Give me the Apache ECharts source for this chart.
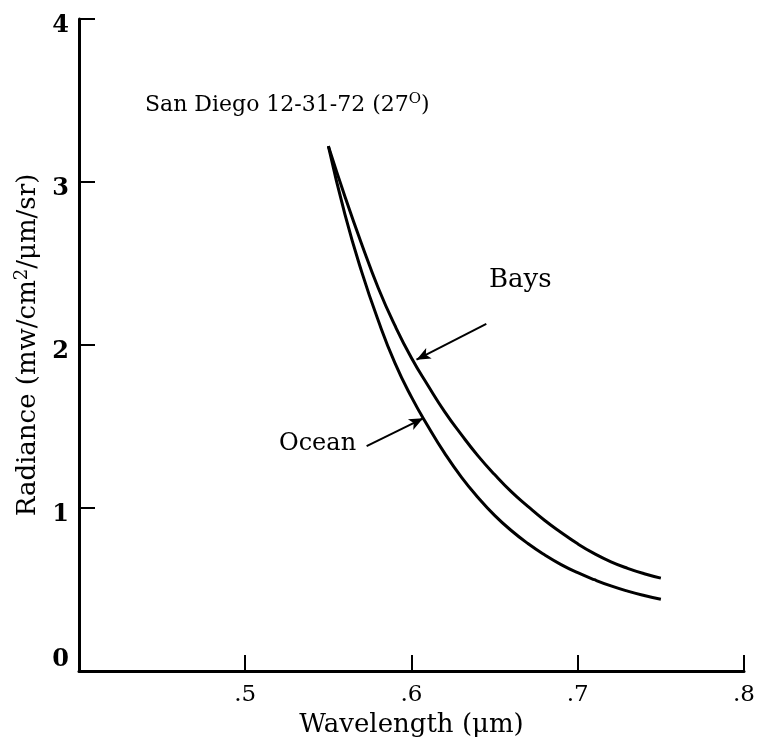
<!DOCTYPE html>
<html>
<head>
<meta charset="utf-8">
<script src="https://cdn.jsdelivr.net/npm/echarts@6/dist/echarts.min.js"></script>
<style>
* { margin: 0; padding: 0; }
html, body { background: #fff; }
#main { width: 761px; height: 743px; }
</style>
</head>
<body>
<!-- chart container -->
<div id="main"></div>
<script>
// wavelength (um) sample positions
var wavelength = [0.55, 0.56, 0.57, 0.58, 0.59, 0.60, 0.61, 0.62, 0.63, 0.64, 0.65,
                  0.66, 0.67, 0.68, 0.69, 0.70, 0.71, 0.72, 0.73, 0.74, 0.75];
// radiance
var bays  = [3.22, 2.91, 2.62, 2.35, 2.12, 1.92, 1.75, 1.59, 1.45, 1.32, 1.205,
             1.10, 1.01, 0.925, 0.85, 0.78, 0.72, 0.67, 0.63, 0.597, 0.57];
var ocean = [3.22, 2.80, 2.45, 2.15, 1.89, 1.68, 1.50, 1.335, 1.19, 1.065, 0.955,
             0.862, 0.782, 0.713, 0.653, 0.603, 0.56, 0.522, 0.49, 0.463, 0.44];
var xTicks = [0.4, 0.5, 0.6, 0.7, 0.8];
var yTicks = [0, 1, 2, 3, 4];

function pairs(xs, ys) {
  return xs.map(function (x, i) { return [x, ys[i]]; });
}

var serif = '"DejaVu Serif", "Liberation Serif", serif';
var chart = echarts.init(document.getElementById('main'));

chart.setOption({
  animation: false,
  backgroundColor: '#fff',
  grid: { left: 79, right: 17, top: 15, bottom: 70, containLabel: false },
  xAxis: {
    type: 'value',
    min: xTicks[0],
    max: xTicks[xTicks.length - 1],
    interval: 0.1,
    splitLine: { show: false },
    axisLine: { lineStyle: { color: '#000', width: 3 } },
    axisTick: { inside: true, length: 16, lineStyle: { color: '#000', width: 2 } },
    axisLabel: {
      color: '#000', fontFamily: serif, fontSize: 23, margin: 13,
      showMinLabel: false,
      formatter: function (v) { return '.' + Math.round(v * 10); }
    },
    name: 'Wavelength (\u03bcm)',
    nameLocation: 'middle',
    nameGap: 41,
    nameTextStyle: { color: '#000', fontFamily: serif, fontSize: 26 }
  },
  yAxis: {
    type: 'value',
    min: yTicks[0],
    max: yTicks[yTicks.length - 1],
    interval: 1,
    splitLine: { show: false },
    axisLine: { lineStyle: { color: '#000', width: 3 } },
    axisTick: { inside: true, length: 16, lineStyle: { color: '#000', width: 2 } },
    axisLabel: {
      color: '#000', fontFamily: serif, fontSize: 24, fontWeight: 'bold', margin: 10,
      formatter: function (v) { return v === 0 ? '{z|0}' : '{n|' + v + '}'; },
      rich: {
        z: { fontFamily: serif, fontSize: 24, fontWeight: 'bold', lineHeight: 28, padding: [0, 0, 22, 0] },
        n: { fontFamily: serif, fontSize: 24, fontWeight: 'bold', lineHeight: 28, padding: [14, 0, 0, 0] }
      }
    },
    name: 'Radiance (mw/cm{sup|2}/\u03bcm/sr)',
    nameLocation: 'middle',
    nameGap: 31,
    nameTextStyle: {
      color: '#000', fontFamily: serif, fontSize: 26,
      rich: { sup: { fontFamily: serif, fontSize: 18, verticalAlign: 'top', padding: [0, 0, 13, 0] } }
    }
  },
  series: [
    {
      name: 'Bays',
      type: 'line',
      data: pairs(wavelength, bays),
      smooth: 0.5,
      symbol: 'none',
      lineStyle: { color: '#000', width: 3 },
      markLine: {
        silent: true,
        symbol: ['none', 'arrow'],
        symbolSize: [9, 14],
        label: { show: false },
        lineStyle: { color: '#000', width: 2, type: 'solid' },
        data: [[{ coord: [0.645, 2.13] }, { coord: [0.603, 1.91] }]]
      }
    },
    {
      name: 'Ocean',
      type: 'line',
      data: pairs(wavelength, ocean),
      smooth: 0.5,
      symbol: 'none',
      lineStyle: { color: '#000', width: 3 },
      markLine: {
        silent: true,
        symbol: ['none', 'arrow'],
        symbolSize: [9, 14],
        label: { show: false },
        lineStyle: { color: '#000', width: 2, type: 'solid' },
        data: [[{ coord: [0.573, 1.38] }, { coord: [0.607, 1.55] }]]
      }
    }
  ],
  graphic: [
    {
      type: 'text', left: 145, top: 92,
      style: {
        text: 'San Diego 12-31-72 (27{sup|O})',
        fill: '#000', font: '22px ' + serif,
        rich: { sup: { fontSize: 15, fontFamily: serif, verticalAlign: 'top', padding: [0, 0, 11, 0] } }
      }
    },
    { type: 'text', left: 489, top: 267, style: { text: 'Bays', fill: '#000', font: '26px ' + serif } },
    { type: 'text', left: 279, top: 432, style: { text: 'Ocean', fill: '#000', font: '24px ' + serif } }
  ]
});
</script>
</body>
</html>
